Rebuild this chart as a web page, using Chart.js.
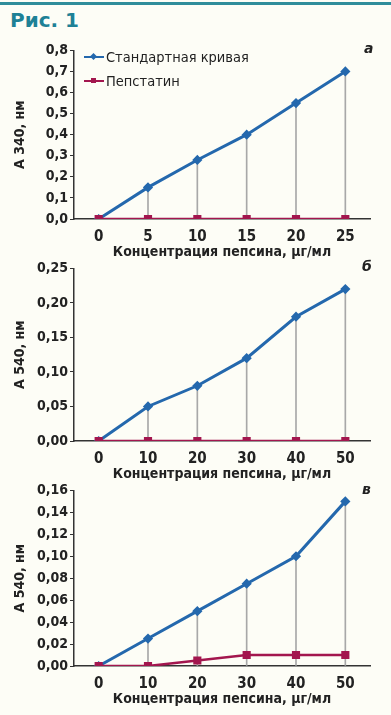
<!DOCTYPE html>
<html>
<head>
<meta charset="utf-8">
<script src="https://cdn.jsdelivr.net/npm/chart.js"></script>
<style>
  html, body { margin: 0; padding: 0; }
  body { width: 391px; height: 715px; background: #fdfdf6; position: relative; overflow: hidden;
         font-family: "DejaVu Sans Condensed", "DejaVu Sans", sans-serif; }
  .topline { position: absolute; left: 0; top: 2px; width: 391px; height: 3px; background: #2f8d9b; }
  .title { position: absolute; left: 10px; top: 8px; font: bold 20px "DejaVu Sans", sans-serif; color: #1e8196; }
  canvas { position: absolute; left: 0; }
  .letter { position: absolute; font: italic bold 14px "DejaVu Sans", sans-serif; color: #222; }
  .legend { position: absolute; left: 84px; font-size: 14.5px; color: #222; }
  .legend div { height: 24px; line-height: 18px; position: relative; padding-left: 22px; }
  .legend .ln { position: absolute; left: 0; top: 8px; width: 20px; height: 2px; }
  .legend .mk { position: absolute; left: 7px; top: 6px; width: 5px; height: 5px; }
</style>
</head>
<body>
<div class="topline"></div>
<div class="title">Рис. 1</div>

<canvas id="chartA" width="391" height="225" style="top:40px"></canvas>
<canvas id="chartB" width="391" height="229" style="top:258px"></canvas>
<canvas id="chartC" width="391" height="232" style="top:480px"></canvas>

<div class="legend" style="top:48px">
  <div><span class="ln" style="background:#2468ad"></span><span class="mk" style="background:#2468ad;transform:rotate(45deg)"></span>Стандартная кривая</div>
  <div><span class="ln" style="background:#a3164e"></span><span class="mk" style="background:#a3164e"></span>Пепстатин</div>
</div>
<div class="letter" style="left:364px;top:40px">а</div>
<div class="letter" style="left:362px;top:258px">б</div>
<div class="letter" style="left:362px;top:481px">в</div>

<script>
// панель а
const concA = ['0', '5', '10', '15', '20', '25'];
const standardA = [0, 0.15, 0.28, 0.40, 0.55, 0.70];
const pepstatinA = [0, 0, 0, 0, 0, 0];

// панель б
const concB = ['0', '10', '20', '30', '40', '50'];
const standardB = [0, 0.05, 0.08, 0.12, 0.18, 0.22];
const pepstatinB = [0, 0, 0, 0, 0, 0];

// панель в
const concC = ['0', '10', '20', '30', '40', '50'];
const standardC = [0, 0.025, 0.05, 0.075, 0.10, 0.15];
const pepstatinC = [0, 0, 0.005, 0.01, 0.01, 0.01];

const BLUE = '#2468ad';
const RED = '#a3164e';
const FONT = '"DejaVu Sans Condensed", "DejaVu Sans", sans-serif';

function createPanel(canvasId, labels, standard, pepstatin, yMax, step, decimals, yTitle) {
    const ctx = document.getElementById(canvasId).getContext('2d');
    new Chart(ctx, {
        data: {
            labels: labels,
            datasets: [
                {
                    type: 'line', label: 'Стандартная кривая', data: standard,
                    borderColor: BLUE, backgroundColor: BLUE, borderWidth: 3,
                    pointStyle: 'rectRot', pointRadius: 3, tension: 0, order: 1
                },
                {
                    type: 'line', label: 'Пепстатин', data: pepstatin,
                    borderColor: RED, backgroundColor: RED, borderWidth: 2.5,
                    pointStyle: 'rect', pointRadius: 4, tension: 0, order: 0
                },
                {
                    // drop lines from the standard curve to the axis
                    type: 'bar', data: standard,
                    backgroundColor: '#a8a8a8', barThickness: 1, order: 2
                }
            ]
        },
        options: {
            responsive: false,
            animation: false,
            layout: { padding: { left: 0, right: 21, top: 10, bottom: 0 } },
            plugins: { legend: { display: false }, tooltip: { enabled: false } },
            scales: {
                x: {
                    type: 'category', offset: true,
                    grid: { display: false, drawTicks: false },
                    border: { display: true, color: '#333', width: 1.5 },
                    ticks: { color: '#222', padding: 9, font: { family: FONT, size: 15, weight: 'bold' } },
                    title: { display: true, text: 'Концентрация пепсина, μг/мл', color: '#222', padding: { top: 2 },
                             font: { family: FONT, size: 14, weight: 'bold' } },
                    afterFit: s => { s.height = 46; }
                },
                y: {
                    min: 0, max: yMax,
                    grid: { display: true, drawOnChartArea: false, drawTicks: true, tickLength: 4, color: '#333' },
                    border: { display: true, color: '#333', width: 1.5 },
                    ticks: {
                        stepSize: step, color: '#222', padding: 2,
                        font: { family: FONT, size: 14, weight: 'bold' },
                        callback: v => v.toFixed(decimals).replace('.', ',')
                    },
                    title: { display: true, text: yTitle, color: '#222', padding: { top: 12, bottom: 0 },
                             font: { family: FONT, size: 14, weight: 'bold' } },
                    afterFit: s => { s.width = 74; }
                }
            }
        }
    });
}

createPanel('chartA', concA, standardA, pepstatinA, 0.8, 0.1, 1, 'А 340, нм');
createPanel('chartB', concB, standardB, pepstatinB, 0.25, 0.05, 2, 'А 540, нм');
createPanel('chartC', concC, standardC, pepstatinC, 0.16, 0.02, 2, 'А 540, нм');
</script>
</body>
</html>
